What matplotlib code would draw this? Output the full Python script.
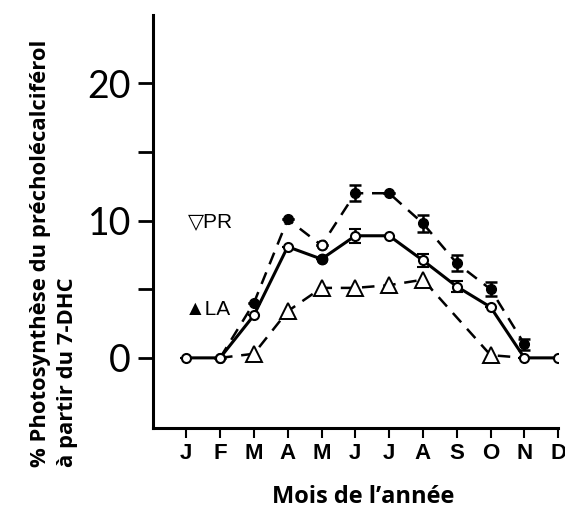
import numpy as np
import matplotlib
matplotlib.use('Agg')
import matplotlib.pyplot as plt

# données
mois = ['J', 'F', 'M', 'A', 'M', 'J', 'J', 'A', 'S', 'O', 'N', 'D']
x_mois = np.arange(12)

# courbe pleine, cercles ouverts
pleine = [0, 0, 3.1, 8.1, 7.2, 8.9, 8.9, 7.1, 5.2, 3.7, 0, 0]
pleine_err = [0, 0, 0, 0, 0, 0.5, 0, 0.5, 0.4, 0, 0, 0]

# courbe tiretée, cercles pleins (F -> N)
x_pleins = [1, 2, 3, 4, 5, 6, 7, 8, 9, 10]
pleins = [0, 4.0, 10.1, 8.2, 12.0, 12.0, 9.8, 6.9, 5.0, 1.0]
pleins_err = [0, 0, 0, 0, 0.6, 0, 0.6, 0.6, 0.5, 0.4]

# courbe tiretée, triangles ouverts (pas de point en septembre)
x_tri = [1, 2, 3, 4, 5, 6, 7, 9, 10]
tri = [0, 0.3, 3.4, 5.1, 5.1, 5.3, 5.7, 0.2, 0]

fig = plt.figure(figsize=(5.65, 5.13), dpi=100)
ax = fig.add_axes([0.271, 0.166, 0.717, 0.805])

lw = 1.8
# triangles
ax.plot(x_tri, tri, color='black', ls=(0, (5, 3.5)), lw=lw,
        marker='^', ms=11, mfc='white', mec='black', mew=1.4,
        markevery=[1, 2, 3, 4, 5, 6, 7], zorder=2)
# cercles pleins
ax.errorbar(x_pleins, pleins, yerr=pleins_err, color='black', ls=(0, (5, 3.5)), lw=lw,
            marker='o', ms=7, mfc='black', mec='black', capsize=4, elinewidth=1.8,
            capthick=1.8, zorder=3)
# cercles ouverts, trait plein
ax.errorbar(x_mois, pleine, yerr=pleine_err, color='black', ls='-', lw=2.2,
            marker='o', ms=6.5, mfc='white', mec='black', mew=1.5, capsize=4,
            elinewidth=1.8, capthick=1.8, zorder=4)
# en mai les symboles sont inversés
ax.plot(4, pleins[3], 'o', ms=7, mfc='white', mec='black', mew=1.5, zorder=5)
ax.plot(4, pleine[4], 'o', ms=7.5, mfc='black', mec='black', zorder=5)

ax.text(0.05, 9.9, '▽PR', fontsize=15, va='center', ha='left',
        family=['Liberation Sans', 'DejaVu Sans'])
ax.text(-0.05, 3.5, '▲LA', fontsize=15, va='center', ha='left',
        family=['Liberation Sans', 'DejaVu Sans'])

ax.set_xlim(-0.98, 11)
ax.set_ylim(-5.1, 25)
ax.spines['top'].set_visible(False)
ax.spines['right'].set_visible(False)
ax.spines['left'].set_linewidth(2.2)
ax.spines['bottom'].set_linewidth(2.2)

ax.set_yticks([0, 5, 10, 15, 20])
ax.set_yticklabels(['0', '', '10', '', '20'], fontsize=27, family='Lato')
ax.tick_params(axis='y', direction='out', length=11, width=2, pad=5)
ax.set_xticks(x_mois)
ax.set_xticklabels(mois, fontsize=16, family='Liberation Sans', fontweight='bold')
ax.tick_params(axis='x', direction='out', length=7, width=1.5, pad=4)

fig.text(0.643, 0.031, 'Mois de l\u2019année', fontsize=17, fontweight='bold',
         family='Open Sans', ha='center', va='center')
fig.text(0.072, 1 - 467 / 513, '% Photosynthèse du précholécalciférol', rotation=90,
         fontsize=15.8, fontweight='bold', family='Open Sans', ha='center', va='bottom')
fig.text(0.119, 1 - 467 / 513, 'à partir du 7-DHC', rotation=90,
         fontsize=15.8, fontweight='bold', family='Open Sans', ha='center', va='bottom')

fig.savefig('out.png', dpi=100)
